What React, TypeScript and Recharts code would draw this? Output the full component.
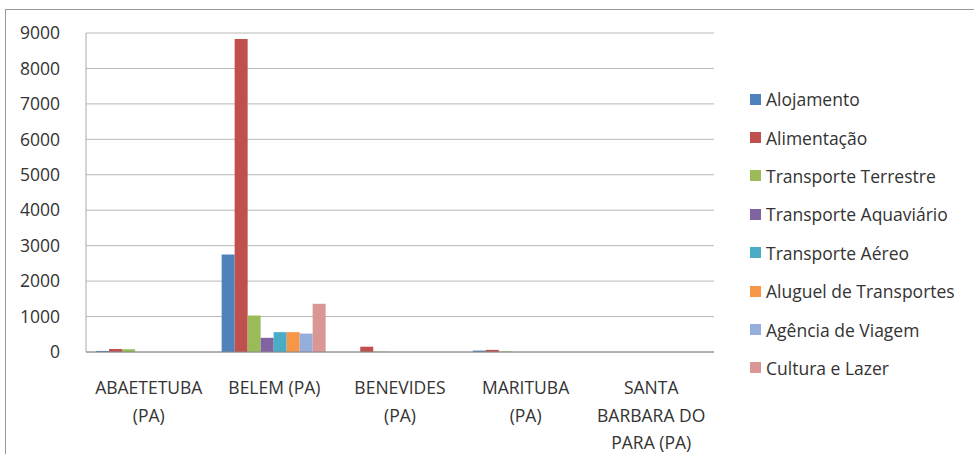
import { BarChart, Bar, XAxis, YAxis, CartesianGrid } from 'recharts'

const cities = ['ABAETETUBA (PA)', 'BELEM (PA)', 'BENEVIDES (PA)', 'MARITUBA (PA)', 'SANTA BARBARA DO PARA (PA)']

const seriesNames = [
  'Alojamento',
  'Alimentação',
  'Transporte Terrestre',
  'Transporte Aquaviário',
  'Transporte Aéreo',
  'Aluguel de Transportes',
  'Agência de Viagem',
  'Cultura e Lazer',
]

const seriesColors = ['#4f81bd', '#c0504d', '#9bbb59', '#8064a2', '#4bacc6', '#f79646', '#95aedb', '#d99694']

// values per series, one per city
const alojamento = [30, 2750, 0, 40, 0]
const alimentacao = [85, 8830, 150, 60, 0]
const terrestre = [80, 1030, 10, 15, 0]
const aquaviario = [0, 400, 0, 0, 0]
const aereo = [0, 560, 0, 0, 0]
const aluguel = [0, 560, 0, 0, 0]
const agencia = [0, 520, 0, 0, 0]
const cultura = [0, 1360, 0, 0, 0]

const seriesValues = [alojamento, alimentacao, terrestre, aquaviario, aereo, aluguel, agencia, cultura]

const yTicks = [0, 1000, 2000, 3000, 4000, 5000, 6000, 7000, 8000, 9000]

const data = cities.map((city, i) => {
  const row: Record<string, string | number> = { city }
  seriesNames.forEach((name, s) => {
    row[name] = seriesValues[s][i]
  })
  return row
})

const FONT = '"Open Sans", "Liberation Sans", sans-serif'

function wrap(label: string, max = 10) {
  const lines: string[] = []
  let cur = ''
  label.split(' ').forEach(w => {
    const next = cur ? cur + ' ' + w : w
    if (next.length > max && cur) {
      lines.push(cur)
      cur = w
    } else {
      cur = next
    }
  })
  if (cur) lines.push(cur)
  return lines
}

interface TickProps {
  x?: number
  y?: number
  payload?: { value: string }
}

function CityTick({ x = 0, y = 0, payload }: TickProps) {
  const lines = wrap(payload?.value ?? '')
  return (
    <text x={x} y={y + 34} textAnchor="middle" fill="#333" fontSize={17.5} fontFamily={FONT}>
      {lines.map((l, i) => (
        <tspan key={i} x={x} dy={i === 0 ? 0 : 27.5}>
          {l}
        </tspan>
      ))}
    </text>
  )
}

export default function App() {
  return (
    <div style={{ position: 'absolute', left: 0, top: 0, width: 974, height: 454, background: '#fff', overflow: 'hidden' }}>
      <div
        style={{
          position: 'absolute',
          left: 5,
          top: 9,
          width: 980,
          height: 460,
          borderTop: '1px solid #999',
          borderLeft: '1px solid #999',
        }}
      />
      <BarChart
        width={974}
        height={454}
        data={data}
        margin={{ top: 33, right: 260, bottom: 0, left: 16 }}
        barCategoryGap="8%"
        barGap={0}
        style={{ position: 'absolute', left: 0, top: 0 }}
      >
        <CartesianGrid vertical={false} stroke="#b8b8b8" />
        <XAxis
          dataKey="city"
          height={102}
          interval={0}
          tickLine={false}
          stroke="#888"
          tick={<CityTick />}
        />
        <YAxis
          width={70}
          domain={[0, 9000]}
          ticks={yTicks}
          tickLine={false}
          stroke="#aaa"
          tickMargin={20}
          tick={{ fill: '#333', fontSize: 17.5, fontFamily: FONT }}
        />
        {seriesNames.map((name, s) => (
          <Bar key={name} dataKey={name} fill={seriesColors[s]} isAnimationActive={false} />
        ))}
      </BarChart>
      <div style={{ position: 'absolute', left: 750, top: 80, fontFamily: FONT, fontSize: 17.5, color: '#333' }}>
        {seriesNames.map((name, s) => (
          <div key={name} style={{ display: 'flex', alignItems: 'center', height: 38.4, whiteSpace: 'nowrap' }}>
            <span style={{ width: 11, height: 11, background: seriesColors[s], marginRight: 5 }} />
            {name}
          </div>
        ))}
      </div>
    </div>
  )
}
